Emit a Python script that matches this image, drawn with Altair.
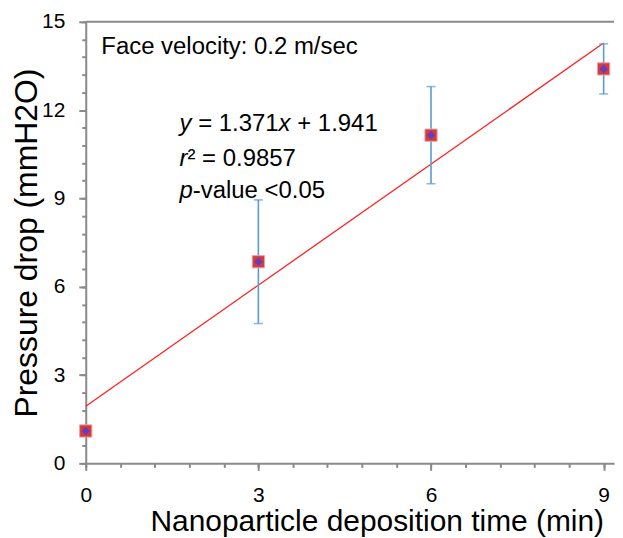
import altair as alt
import pandas as pd

# ---- data ----
times = [0, 3, 6, 9]
pressure = [1.1, 6.85, 11.15, 13.4]
errors = [0.1, 2.1, 1.65, 0.85]

fit_x = [0, 9]
fit_y = [1.941, 14.28]

x_major = [0, 3, 6, 9]
x_minor = [round(i * 0.6, 1) for i in range(16)]
y_major = [0, 3, 6, 9, 12, 15]
y_minor = [round(i * 0.6, 1) for i in range(26)]

face_text = "Face velocity: 0.2 m/sec"
eq_parts = ["y", "= 1.371", "x", "+ 1.941"]
r2_parts = ["r", "² = 0.9857"]
p_parts = ["p", "-value <0.05"]

FONT = "Liberation Sans"
GRAY = "#8a8a8a"
BLUE = "#5b9bd5"

df = pd.DataFrame({
    "t": times,
    "p": pressure,
    "lo": [p - e for p, e in zip(pressure, errors)],
    "hi": [p + e for p, e in zip(pressure, errors)],
})
fit = pd.DataFrame({"t": fit_x, "p": fit_y})

xs = alt.Scale(domain=[0, 9.18], nice=False, zero=False)
ys = alt.Scale(domain=[0, 15], nice=False)

x_major_axis = alt.Axis(
    orient="bottom", values=x_major, tickSize=7, tickColor=GRAY, tickWidth=2,
    domainColor=GRAY, domainWidth=2, grid=False,
    labelFontSize=21, labelFont=FONT, labelColor="black", labelPadding=14,
    labelFlush=False, labelOverlap=False, format="d",
    title="Nanoparticle deposition time (min)", titleFontSize=30, titleFont=FONT,
    titleFontWeight="normal", titleColor="black", titlePadding=1, titleX=292,
)
x_minor_axis = alt.Axis(
    orient="bottom", values=x_minor, tickSize=4, tickColor=GRAY, tickWidth=2,
    domain=False, labels=False, grid=False, title=None,
)
y_major_axis = alt.Axis(
    orient="left", values=y_major, tickSize=7, tickColor=GRAY, tickWidth=2,
    domainColor=GRAY, domainWidth=2, grid=False,
    labelFontSize=21, labelFont=FONT, labelColor="black", labelPadding=14,
    labelFlush=False, labelOverlap=False, format="d",
    title="Pressure drop (mmH2O)", titleFontSize=32, titleFont=FONT,
    titleFontWeight="normal", titleColor="black", titlePadding=-2,
)
y_minor_axis = alt.Axis(
    orient="left", values=y_minor, tickSize=4, tickColor=GRAY, tickWidth=2,
    domain=False, labels=False, grid=False, title=None,
)

line = alt.Chart(fit).mark_line(color="#ff2020", strokeWidth=1.3).encode(
    x=alt.X("t:Q", scale=xs, axis=x_major_axis),
    y=alt.Y("p:Q", scale=ys, axis=y_major_axis),
)

bars = alt.Chart(df).mark_rule(color=BLUE, strokeWidth=1.6).encode(
    x=alt.X("t:Q", scale=xs, axis=x_minor_axis),
    y=alt.Y("lo:Q", scale=ys, axis=None),
    y2="hi:Q",
)

caps = alt.Chart(df).transform_fold(["lo", "hi"], as_=["k", "v"]).mark_tick(
    orient="horizontal", size=9, thickness=1.6, color=BLUE
).encode(
    x=alt.X("t:Q", scale=xs, axis=None),
    y=alt.Y("v:Q", scale=ys, axis=None),
)

squares = alt.Chart(df).mark_square(
    size=150, color="#d43c3c", opacity=1, stroke="#e8a0a0", strokeWidth=1
).encode(
    x=alt.X("t:Q", scale=xs, axis=None),
    y=alt.Y("p:Q", scale=ys, axis=None),
)

diamonds = alt.Chart(df).mark_point(
    shape="diamond", filled=True, size=75, color="#6a3cb8", opacity=1
).encode(
    x=alt.X("t:Q", scale=xs, axis=None),
    y=alt.Y("p:Q", scale=ys, axis=None),
)


def label(text, xv, yv, dx=0, italic=False, size=24):
    return alt.Chart(df).mark_text(
        text=text, align="left", baseline="middle", font=FONT, fontSize=size,
        fontStyle="italic" if italic else "normal", color="black", dx=dx,
    ).encode(
        x=alt.X(datum=xv, axis=None),
        y=alt.Y(datum=yv, axis=None),
    ).transform_filter("datum.t == 0")


texts = [
    label(face_text, 0.27, 14.15),
    label(eq_parts[0], 1.63, 11.54, 0, True),
    label(eq_parts[1], 1.63, 11.54, 18.7),
    label(eq_parts[2], 1.63, 11.54, 99.4, True),
    label(eq_parts[3], 1.63, 11.54, 118.1),
    label(r2_parts[0], 1.63, 10.35, 0, True),
    label(r2_parts[1], 1.63, 10.35, 8.0),
    label(p_parts[0], 1.63, 9.24, 0, True),
    label(p_parts[1], 1.63, 9.24, 13.3),
]

top_rule = alt.Chart(df).mark_rule(color=GRAY, strokeWidth=2).encode(
    y=alt.Y(datum=15, scale=ys, axis=y_minor_axis),
).transform_filter("datum.t == 0")

chart = alt.layer(
    line, bars, caps, squares, diamonds, *texts, top_rule
).resolve_axis(
    x="independent", y="independent"
).properties(
    width=530, height=443,
    padding={"left": 2, "top": 2, "right": 0, "bottom": 0},
).configure_view(stroke=None)

chart.save("out.html", embed_options={"renderer": "svg", "actions": False})
